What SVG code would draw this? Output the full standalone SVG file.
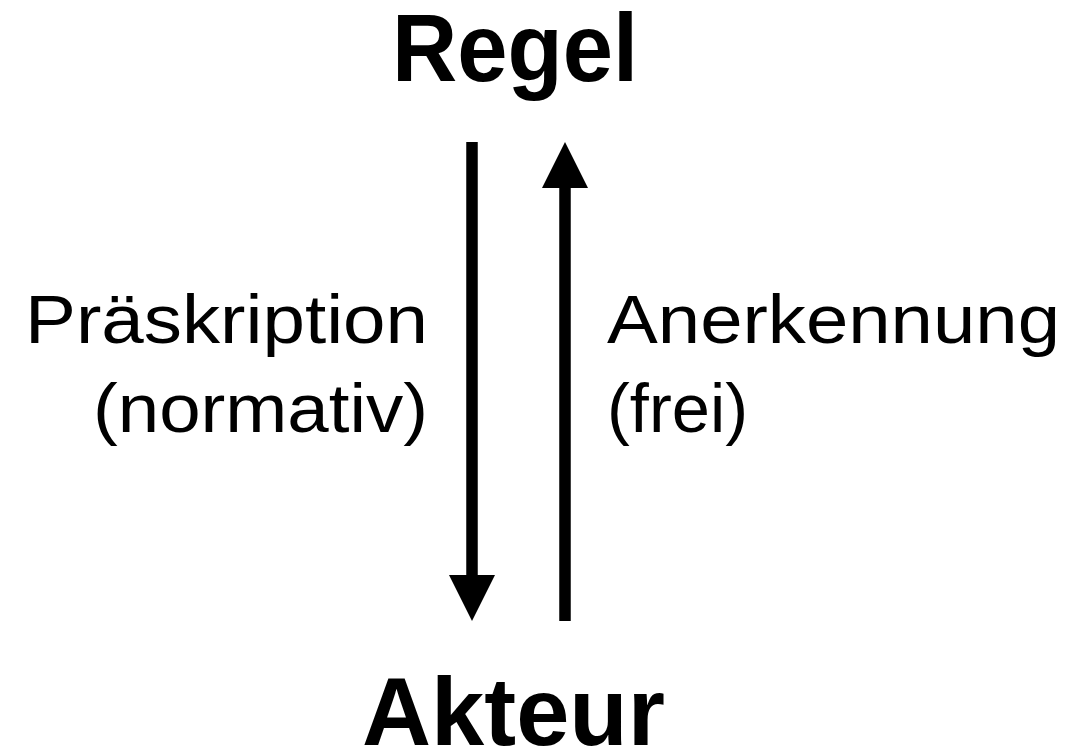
<svg xmlns="http://www.w3.org/2000/svg" width="1068" height="747" viewBox="0 0 1068 747">
<style>
text{font-family:"Liberation Sans",Arial,sans-serif;fill:#000}
.node{font-weight:bold;font-size:96px}
.lbl{font-size:69px}
.shaft{stroke:#000;stroke-width:11.5;fill:none}
.head{fill:#000}
</style>
<rect width="1068" height="747" fill="#fff"/>
<g id="regel"><text class="node" x="392" y="81" textLength="246" lengthAdjust="spacingAndGlyphs">Regel</text></g>
<g id="akteur"><text class="node" x="362" y="745" textLength="303" lengthAdjust="spacingAndGlyphs">Akteur</text></g>
<g id="connectors">
<line class="shaft" x1="472" y1="142" x2="472" y2="577"/>
<polygon class="head" points="449,575 495,575 472,621"/>
<line class="shaft" x1="565" y1="621" x2="565" y2="186"/>
<polygon class="head" points="542,188 588,188 565,142"/>
</g>
<g id="label-praeskription">
<text class="lbl" x="25" y="343" textLength="403" lengthAdjust="spacingAndGlyphs">Präskription</text>
<text class="lbl" x="93" y="432" textLength="335" lengthAdjust="spacingAndGlyphs">(normativ)</text>
</g>
<g id="label-anerkennung">
<text class="lbl" x="607" y="343" textLength="453" lengthAdjust="spacingAndGlyphs">Anerkennung</text>
<text class="lbl" x="607" y="432" textLength="141" lengthAdjust="spacingAndGlyphs">(frei)</text>
</g>
</svg>
